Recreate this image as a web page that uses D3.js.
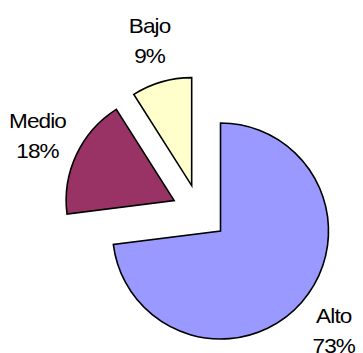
<!DOCTYPE html>
<meta charset="utf-8">
<head>
  <meta charset="utf-8">
  <script src="https://d3js.org/d3.v7.min.js"></script>
  <style>
    body { margin: 0; background: #fff; }
    text { font-family: Arial, "Liberation Sans", sans-serif; font-size: 20.5px; fill: #000; letter-spacing: -0.8px; }
  </style>
</head>
<body>
  <svg width="363" height="353"></svg>
  <script>
    // data
    var categories = ["Alto", "Medio", "Bajo"];
    var values = [73, 18, 9];
    var colors = ["#9999ff", "#993366", "#ffffcc"];

    var svg = d3.select("svg");
    var cx = 199.5, cy = 212.5;
    var radius = 108;
    var explode = 28;
    var labelRadius = 151;

    var total = d3.sum(values);
    var data = categories.map(function(c, i) { return { name: c, value: values[i], color: colors[i] }; });

    var pie = d3.pie().sort(null).value(function(d) { return d.value; });
    var arc = d3.arc().innerRadius(0).outerRadius(radius);
    var slices = pie(data);

    var g = svg.append("g").attr("transform", "translate(" + cx + "," + cy + ")");

    var mid = function(d) { return (d.startAngle + d.endAngle) / 2; };

    g.selectAll("path")
      .data(slices)
      .enter()
      .append("path")
      .attr("d", arc)
      .attr("transform", function(d) {
        var a = mid(d);
        return "translate(" + (Math.sin(a) * explode) + "," + (-Math.cos(a) * explode) + ")";
      })
      .style("fill", function(d) { return d.data.color; })
      .attr("stroke", "#000")
      .attr("stroke-width", 1.6)
      .attr("stroke-linejoin", "miter");

    // labels: name and percent on two lines
    var lab = g.selectAll("text.lab")
      .data(slices)
      .enter()
      .append("text")
      .attr("class", "lab")
      .attr("text-anchor", "middle")
      .attr("transform", function(d) {
        var a = mid(d);
        var r = explode + labelRadius;
        return "translate(" + (Math.sin(a) * r) + "," + (-Math.cos(a) * r) + ") scale(1.1,1)";
      });

    lab.append("tspan")
      .attr("x", 0)
      .attr("y", -8)
      .text(function(d) { return d.data.name; });

    lab.append("tspan")
      .attr("x", 0)
      .attr("y", 22)
      .text(function(d) { return Math.round(d.value / total * 100) + "%"; });
  </script>
</body>
